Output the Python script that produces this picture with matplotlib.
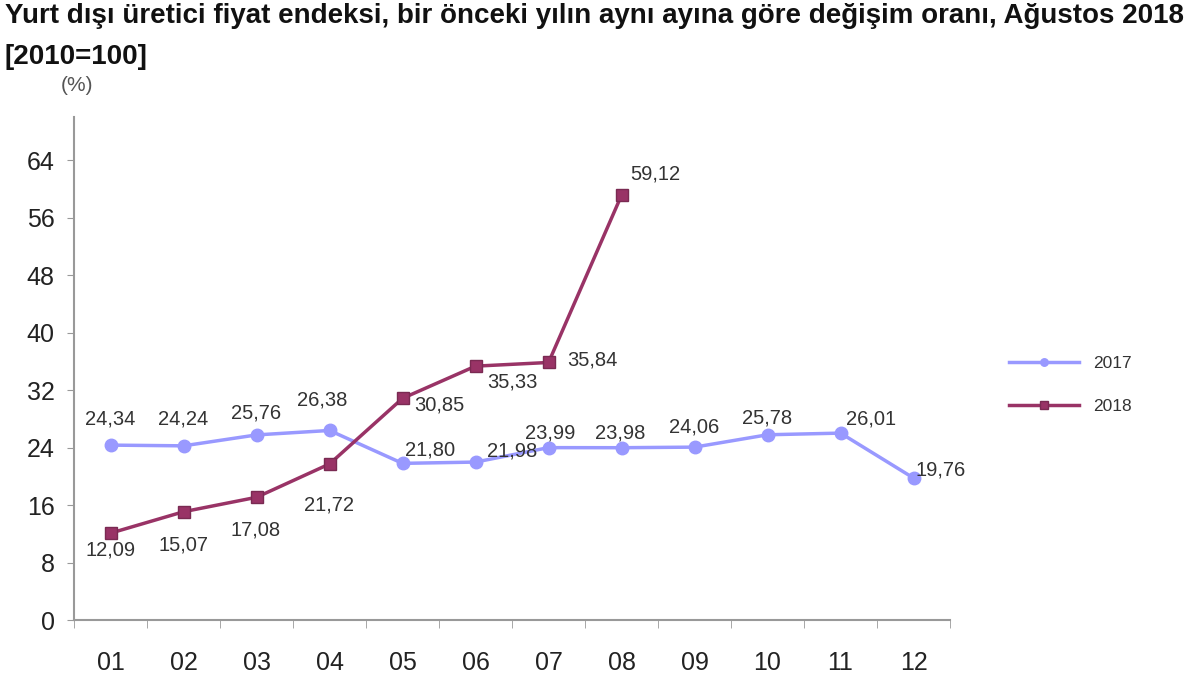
import matplotlib.pyplot as plt
from matplotlib.ticker import FixedLocator

plt.rcParams['font.family'] = ['Liberation Sans', 'DejaVu Sans']

months = ['01', '02', '03', '04', '05', '06', '07', '08', '09', '10', '11', '12']
y2017 = [24.34, 24.24, 25.76, 26.38, 21.80, 21.98, 23.99, 23.98, 24.06, 25.78, 26.01, 19.76]
y2018 = [12.09, 15.07, 17.08, 21.72, 30.85, 35.33, 35.84, 59.12]
yticks = [0, 8, 16, 24, 32, 40, 48, 56, 64]

# label offsets in pixels (dx, dy)
off2017 = [(0, 26), (0, 27), (0, 22), (-7, 30), (28, 13), (37, 11),
           (2, 15), (-1, 15), (0, 20), (0, 17), (31, 14), (27, 8)]
off2018 = [(0, -17), (0, -33), (-1, -33), (-1, -41), (37, -7), (37, -16),
           (44, 2), (34, 21)]

c2017 = '#9999ff'
c2018 = '#993366'
txt = '#333333'


def fmt(v):
    return f'{v:.2f}'.replace('.', ',')


fig = plt.figure(figsize=(12, 6.83), dpi=100)
ax = fig.add_axes([0.0617, 0.0922, 0.73, 0.7365])

x17 = range(len(y2017))
x18 = range(len(y2018))
l17, = ax.plot(x17, y2017, color=c2017, lw=2.5, marker='o', ms=9, label='2017')
l18, = ax.plot(x18, y2018, color=c2018, lw=2.5, marker='s', ms=9,
               markeredgecolor='#7a2a52', label='2018')

for i, v in enumerate(y2017):
    ax.annotate(fmt(v), (i, v), xytext=off2017[i], textcoords='offset pixels',
                ha='center', va='center', fontsize=14.5, color=txt)
for i, v in enumerate(y2018):
    ax.annotate(fmt(v), (i, v), xytext=off2018[i], textcoords='offset pixels',
                ha='center', va='center', fontsize=14.5, color=txt)

ax.set_xlim(-0.5, 11.5)
ax.set_ylim(0, 70)
ax.set_yticks(yticks)
ax.set_xticks(range(12))
ax.set_xticklabels(months)
ax.xaxis.set_minor_locator(FixedLocator([i - 0.5 for i in range(13)]))
ax.tick_params(axis='x', which='major', length=0, pad=22, labelsize=18, labelcolor='#222222')
ax.tick_params(axis='x', which='minor', length=6, color='#999999', direction='out')
ax.tick_params(axis='y', length=5, color='#999999', pad=9, labelsize=18, labelcolor='#222222')

for s in ['top', 'right']:
    ax.spines[s].set_visible(False)
for s in ['left', 'bottom']:
    ax.spines[s].set_color('#999999')
    ax.spines[s].set_linewidth(1.5)

fig.text(0.004, 0.995, 'Yurt dışı üretici fiyat endeksi, bir önceki yılın aynı ayına göre değişim oranı, Ağustos 2018',
         fontsize=20, fontweight='bold', va='top', ha='left', color='#111111')
fig.text(0.004, 0.935, '[2010=100]', fontsize=20, fontweight='bold', va='top', ha='left', color='#111111')
fig.text(0.064, 0.875, '(%)', fontsize=15, va='center', ha='center', color='#555555')

fig.legend(handles=[l17, l18], loc='center', bbox_to_anchor=(0.892, 0.436),
           frameon=False, fontsize=12.5, handlelength=4, labelspacing=1.6,
           markerscale=0.6, labelcolor=txt)

fig.savefig('out.png', dpi=100)
